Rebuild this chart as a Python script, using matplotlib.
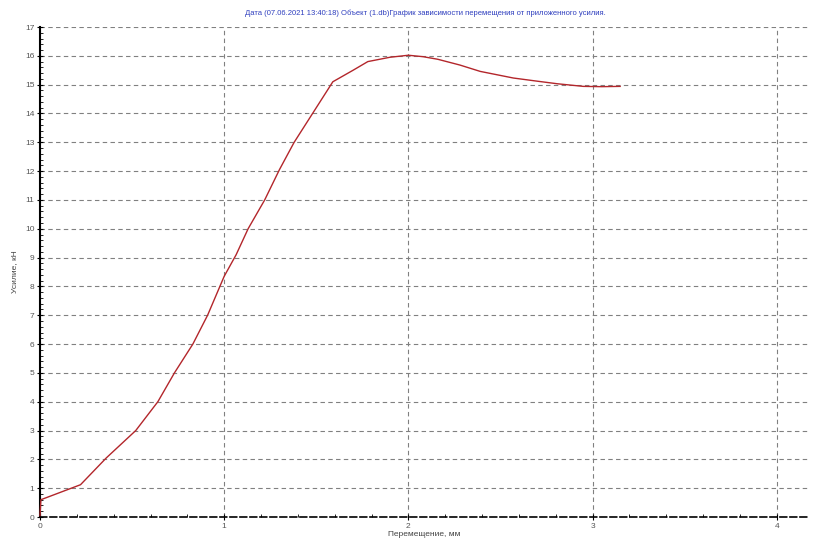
import matplotlib
matplotlib.use('Agg')
import matplotlib.pyplot as plt
from matplotlib.ticker import MultipleLocator

# displacement (mm) vs force (kN)
displacement = [0.0, 0.005, 0.22, 0.36, 0.52, 0.64, 0.73, 0.83, 0.91, 1.0, 1.065,
                1.13, 1.22, 1.30, 1.38, 1.48, 1.59, 1.70, 1.78, 1.90, 2.0, 2.08,
                2.16, 2.28, 2.39, 2.57, 2.70, 2.81, 2.95, 3.05, 3.15]
force = [0.05, 0.6, 1.12, 2.05, 3.0, 4.0, 5.0, 6.0, 7.0, 8.35, 9.1,
         10.0, 11.0, 12.05, 13.0, 14.0, 15.1, 15.5, 15.8, 15.95, 16.02, 15.97,
         15.88, 15.68, 15.46, 15.23, 15.12, 15.03, 14.94, 14.93, 14.94]

title = ("Дата (07.06.2021 13:40:18) Объект (1.db)График зависимости "
         "перемещения от приложенного усилия.")

plt.rcParams['font.family'] = ['Liberation Sans', 'DejaVu Sans']

fig = plt.figure(figsize=(8.24, 5.41), dpi=100)
ax = fig.add_axes([40 / 824, 24 / 541, 768 / 824, 490 / 541])

ax.plot(displacement, force, color='#b3262b', linewidth=1.0, clip_on=False, zorder=4)

ax.set_xlim(0, 4.17)
ax.set_ylim(0, 17)
ax.xaxis.set_major_locator(MultipleLocator(1))
ax.xaxis.set_minor_locator(MultipleLocator(0.2))
ax.yaxis.set_major_locator(MultipleLocator(1))
ax.yaxis.set_minor_locator(MultipleLocator(0.2))

ax.grid(True, which='major', color='#808080', linestyle=(0, (4, 3)), linewidth=0.8)

for s in ['top', 'right']:
    ax.spines[s].set_visible(False)
ax.spines['left'].set_linewidth(1.5)
ax.spines['bottom'].set_linewidth(1.2)
ax.spines['bottom'].set_linestyle((0, (4, 2)))

ax.tick_params(axis='both', which='major', length=4, width=0.8, direction='inout',
               labelsize=6, labelcolor='#555555', pad=2)
ax.tick_params(axis='both', which='minor', length=2, width=0.6, direction='in')

ax.set_xlabel('Перемещение, мм', fontsize=6, color='#444444', labelpad=1)
ax.set_ylabel('Усилие, кН', fontsize=6, color='#444444', labelpad=5)
fig.text(0.516, 0.975, title, fontsize=5.5, color='#2f3fbf', ha='center', va='center')

fig.savefig('out.png', dpi=100)
